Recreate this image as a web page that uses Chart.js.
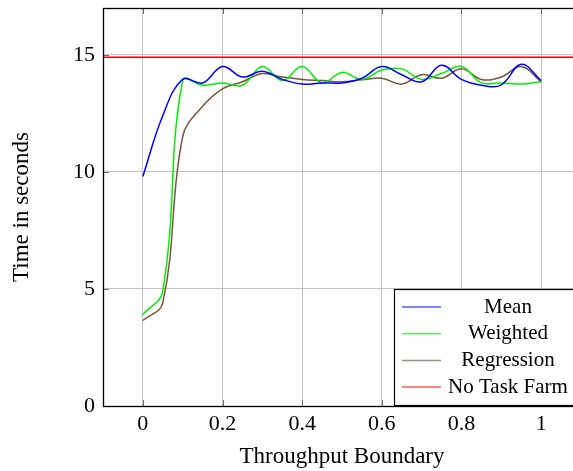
<!DOCTYPE html>
<html><head><meta charset="utf-8">
<script src="https://cdn.jsdelivr.net/npm/chart.js@4"></script>
<style>html,body{margin:0;padding:0;background:#fff;overflow:hidden}
#wrap{width:600px;height:471px;position:relative}</style>
</head><body><div id="wrap"><canvas id="c"></canvas></div>
<script>
const xValues = [0,0.05,0.1,0.15,0.2,0.25,0.3,0.35,0.4,0.45,0.5,0.55,0.6,0.65,0.7,0.75,0.8,0.85,0.9,0.95,1];
const meanValues = [9.8,12.4,13.95,13.8,14.5,14.05,14.3,13.95,13.75,13.8,13.8,14.0,14.5,14.15,13.85,14.55,13.95,13.7,13.72,14.6,13.9];
const weightedValues = [3.9,4.9,13.9,13.7,13.8,13.7,14.5,13.9,14.5,13.8,14.25,13.95,14.35,14.4,13.95,14.2,14.5,13.8,13.8,13.75,13.85];
const regressionValues = [3.65,4.4,11.5,12.8,13.55,13.85,14.2,14.05,13.95,13.9,13.85,13.93,14.0,13.75,14.15,14.0,14.4,13.95,14.05,14.5,13.85];
const noTaskFarmValue = 14.9;
const xRange = [-0.1, 1.1];
const yRange = [0, 17];
const xTicks = [0,0.2,0.4,0.6,0.8,1];
const yTicks = [0,5,10,15];
const seriesNames = ['Mean','Weighted','Regression','No Task Farm'];
const seriesColors = ['#0000ff','#00ee00','#76563a','#ff0000'];
const xTitle = 'Throughput Boundary';
const yTitle = 'Time in seconds';

const FONT = '"Liberation Serif", "DejaVu Serif", serif';

function pts(vals){ return xValues.map((x,i)=>({x:x,y:vals[i]})); }

const datasets = [
  {label:seriesNames[0], data:pts(meanValues)},
  {label:seriesNames[1], data:pts(weightedValues)},
  {label:seriesNames[2], data:pts(regressionValues)},
  {label:seriesNames[3], data:[{x:xRange[0],y:noTaskFarmValue},{x:xRange[1],y:noTaskFarmValue}], tension:0}
].map((d,i)=>Object.assign({borderColor:seriesColors[i], backgroundColor:seriesColors[i], borderWidth:1.5, pointRadius:0, fill:false, tension:0.4}, d));

const framePlugin = {
  id:'frame',
  afterDraw(chart){
    const {ctx, chartArea:a, scales} = chart;
    ctx.save();
    ctx.strokeStyle = '#707070';
    ctx.lineWidth = 1;
    const tl = 6;
    xTicks.forEach(v=>{
      const px = Math.round(scales.x.getPixelForValue(v))+0.5;
      ctx.beginPath();
      ctx.moveTo(px,a.bottom); ctx.lineTo(px,a.bottom-tl);
      ctx.moveTo(px,a.top); ctx.lineTo(px,a.top+tl);
      ctx.stroke();
    });
    yTicks.forEach(v=>{
      const py = Math.round(scales.y.getPixelForValue(v))+0.5;
      ctx.beginPath();
      ctx.moveTo(a.left,py); ctx.lineTo(a.left+tl,py);
      ctx.moveTo(a.right,py); ctx.lineTo(a.right-tl,py);
      ctx.stroke();
    });
    ctx.strokeStyle = '#000';
    ctx.lineWidth = 1.3;
    ctx.strokeRect(Math.round(a.left)+0.5, Math.round(a.top)+0.5, Math.round(a.right-a.left), Math.round(a.bottom-a.top));
    const bx = 394, by = 289, bw = 186, bh = 116;
    ctx.fillStyle = '#fff';
    ctx.fillRect(bx,by,bw,bh);
    ctx.strokeStyle = '#000';
    ctx.lineWidth = 1.2;
    ctx.strokeRect(bx+0.5,by+0.5,bw,bh);
    ctx.font = '21px ' + FONT;
    ctx.textAlign = 'center';
    ctx.textBaseline = 'middle';
    seriesNames.forEach((name,i)=>{
      const y = 307 + i*26.7;
      ctx.globalAlpha = 0.65;
      ctx.strokeStyle = seriesColors[i];
      ctx.lineWidth = 1.5;
      ctx.beginPath(); ctx.moveTo(402,y); ctx.lineTo(441,y); ctx.stroke();
      ctx.globalAlpha = 1;
      ctx.fillStyle = '#000';
      ctx.fillText(name, 508, y);
    });
    ctx.restore();
  }
};

new Chart(document.getElementById('c'), {
  type:'line',
  data:{datasets},
  options:{
    responsive:true, maintainAspectRatio:false, animation:false,
    layout:{padding:{top:8,right:19,left:0,bottom:0}},
    plugins:{legend:{display:false}, tooltip:{enabled:false}},
    scales:{
      x:{
        type:'linear', min:xRange[0], max:xRange[1],
        afterBuildTicks(s){ s.ticks = xTicks.map(v=>({value:v})); },
        afterFit(s){ s.height = 65; s.paddingLeft = 0; s.paddingRight = 0; },
        grid:{color:'#c4c4c4', lineWidth:1, drawTicks:false},
        border:{display:false},
        ticks:{color:'#000', font:{family:FONT, size:22}, padding:5, maxRotation:0, autoSkip:false, callback:v=>String(v)},
        title:{display:true, text:xTitle, color:'#000', font:{family:FONT, size:23}, padding:{top:0,bottom:0}}
      },
      y:{
        type:'linear', min:yRange[0], max:yRange[1],
        afterBuildTicks(s){ s.ticks = yTicks.map(v=>({value:v})); },
        afterFit(s){ s.width = 103; s.paddingTop = 0; s.paddingBottom = 0; },
        grid:{color:'#c4c4c4', lineWidth:1, drawTicks:false},
        border:{display:false},
        ticks:{color:'#000', font:{family:FONT, size:22}, padding:8, autoSkip:false, callback:v=>String(v)},
        title:{display:true, text:yTitle, color:'#000', font:{family:FONT, size:23}, padding:{top:8,bottom:0}}
      }
    }
  },
  plugins:[framePlugin]
});
</script></body></html>
